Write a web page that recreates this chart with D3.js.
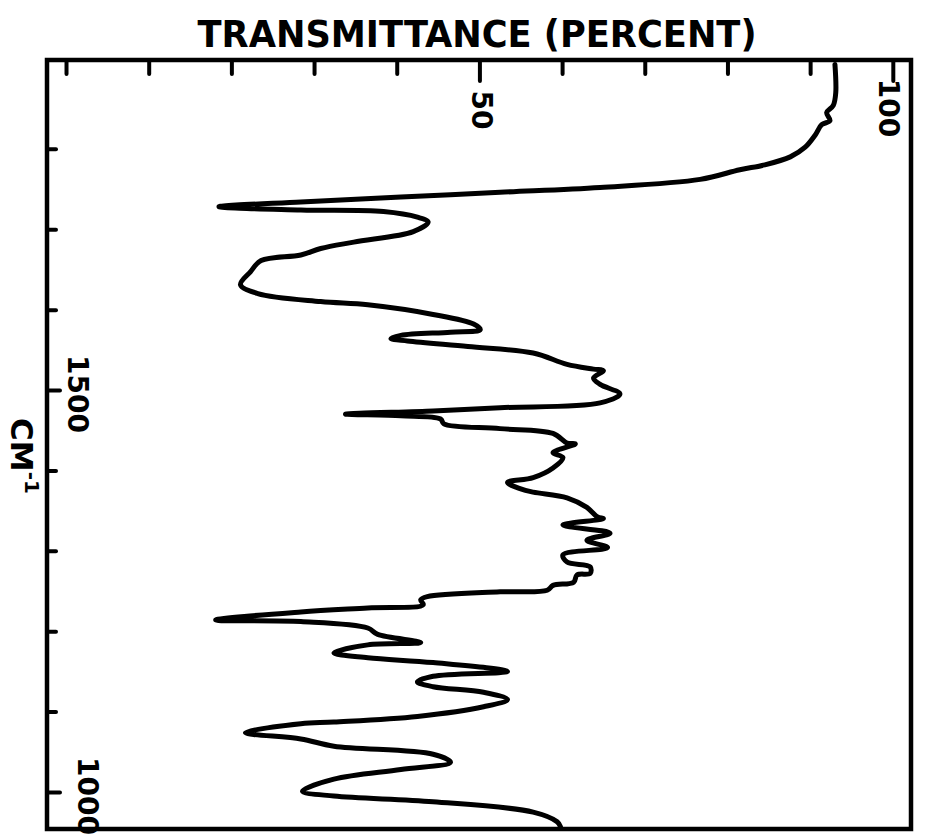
<!DOCTYPE html>
<html>
<head>
<meta charset="utf-8">
<script src="https://cdn.jsdelivr.net/npm/d3@7"></script>
<style>
  body { margin: 0; background: #fff; }
  text { font-family: "DejaVu Sans", sans-serif; font-weight: bold; fill: #000; }
  .title { font-family: "DejaVu Sans Condensed", "DejaVu Sans", sans-serif; }
</style>
</head>
<body>
<svg id="chart" width="925" height="834"></svg>
<script>
// spectrum, top (high cm-1) to bottom
const wavenumber = [1905, 1870, 1854, 1845, 1835, 1830, 1817, 1802, 1790, 1780, 1774, 1762, 1752, 1746, 1740, 1734, 1728, 1724, 1722, 1715,
    1709, 1697, 1684, 1676, 1668, 1661, 1647, 1631, 1620, 1610, 1606, 1594, 1582, 1575, 1572, 1568, 1564, 1561, 1554, 1546,
    1532, 1526, 1524, 1515, 1507, 1495, 1484, 1478, 1474, 1470, 1468, 1464, 1458, 1452, 1446, 1434, 1433, 1422, 1416, 1403,
    1391, 1385, 1377, 1373, 1366, 1354, 1342, 1340, 1332, 1322, 1313, 1304, 1295, 1286, 1280, 1272, 1270, 1261, 1257, 1251,
    1249, 1243, 1239, 1233, 1229, 1224, 1214, 1212, 1204, 1196, 1186, 1183, 1173, 1167, 1161, 1150, 1144, 1137, 1131, 1124,
    1115, 1106, 1094, 1087, 1085, 1074, 1066, 1057, 1047, 1037, 1028, 1016, 1001, 995, 988, 975, 963, 957];
const transmittance = [93.0, 93.1, 92.8, 92.0, 92.4, 91.4, 90.6, 89.4, 87.6, 84.5, 81.5, 76.7, 64.6, 52.5, 40.5, 28.4, 18.5, 28.4, 38.4, 42.5,
    43.8, 42.0, 34.8, 30.8, 28.4, 23.6, 22.3, 21.1, 23.2, 30.8, 36.5, 44.4, 49.3, 50.1, 46.5, 40.5, 39.3, 41.3, 48.6, 56.5,
    60.6, 63.8, 65.0, 63.8, 64.6, 67.0, 64.6, 52.5, 44.4, 33.8, 40.5, 45.3, 45.7, 52.5, 58.9, 60.6, 61.6, 58.9, 60.1, 58.9,
    56.5, 53.4, 55.0, 56.5, 60.6, 63.0, 64.3, 65.0, 60.1, 65.8, 63.0, 65.5, 60.1, 60.6, 63.4, 63.4, 61.8, 61.4, 58.9, 58.2,
    52.5, 43.7, 42.9, 43.2, 36.5, 28.4, 18.1, 28.4, 36.5, 37.7, 42.9, 36.5, 32.4, 36.5, 44.4, 53.4, 44.4, 42.5, 44.4, 50.5,
    53.4, 50.5, 42.5, 32.4, 28.4, 21.7, 28.4, 32.4, 44.4, 46.5, 40.5, 32.4, 28.6, 32.4, 44.4, 56.5, 59.4, 59.8];

const percentTicks = [0, 10, 20, 30, 40, 50, 60, 70, 80, 90, 100];
const percentLabels = [50, 100];
const wnTicks = [1800, 1700, 1600, 1500, 1400, 1300, 1200, 1100, 1000];
const wnLabels = [1500, 1000];

const svg = d3.select("#chart");
const g = svg.append("g");

const frameL = 47, frameR = 911, frameT = 60, frameB = 829;
const x = d3.scaleLinear().domain([-2.3, 102.2]).range([frameL, frameR]);
const y = d3.scaleLinear().domain([1908, 954]).range([62, frameB]);

// title
g.append("text").attr("class", "title").attr("x", 477).attr("y", 47).attr("text-anchor", "middle")
    .style("font-size", "37px").attr("textLength", 559).attr("lengthAdjust", "spacingAndGlyphs")
    .text("TRANSMITTANCE (PERCENT)");

// ticks on the top edge
const topAxis = g.append("g").attr("transform", `translate(0,${frameT})`)
    .call(d3.axisBottom(x).tickValues(percentTicks).tickFormat("").tickSizeInner(14).tickSizeOuter(0));
topAxis.select(".domain").remove();
topAxis.selectAll(".tick line").attr("stroke", "#000").attr("stroke-width", 4).attr("stroke-linecap", "round")
    .attr("y2", d => percentLabels.includes(d) ? 21 : 14);

// ticks on the left edge
const leftAxis = g.append("g").attr("transform", `translate(${frameL},0)`)
    .call(d3.axisRight(y).tickValues(wnTicks).tickFormat("").tickSizeInner(9).tickSizeOuter(0));
leftAxis.select(".domain").remove();
leftAxis.selectAll(".tick line").attr("stroke", "#000").attr("stroke-width", 4).attr("stroke-linecap", "round")
    .attr("x2", d => wnLabels.includes(d) ? 13 : 9);

// frame
g.append("rect").attr("x", frameL).attr("y", frameT).attr("width", frameR - frameL).attr("height", frameB - frameT)
    .attr("fill", "none").attr("stroke", "#000").attr("stroke-width", 4.5);

// rotated labels
percentLabels.forEach(v => {
    const lx = x(v) + (v === 100 ? -4 : 2), ly = v === 100 ? 108 : 110;
    g.append("text").attr("x", lx).attr("y", ly).attr("text-anchor", "middle").attr("dominant-baseline", "central")
        .attr("transform", `rotate(90,${lx},${ly})`).style("font-size", "28px").text(v);
});
wnLabels.forEach(v => {
    const lx = v === 1500 ? 77 : 87, ly = y(v) + 4;
    g.append("text").attr("x", lx).attr("y", ly).attr("text-anchor", "middle").attr("dominant-baseline", "central")
        .attr("transform", `rotate(90,${lx},${ly})`).style("font-size", "28px").text(v);
});

const cm = g.append("text").attr("x", 22).attr("y", 456).attr("text-anchor", "middle").attr("dominant-baseline", "central")
    .attr("transform", "rotate(90,22,456)").style("font-size", "31px");
cm.append("tspan").text("CM");
cm.append("tspan").attr("dy", -10).style("font-size", "20px").text("-1");

// spectrum trace
const pts = wavenumber.map((w, i) => [transmittance[i], w]);
g.append("path").datum(pts)
    .attr("d", d3.line().x(d => x(d[0])).y(d => y(d[1])).curve(d3.curveCatmullRom.alpha(0.5)))
    .attr("fill", "none").attr("stroke", "#000").attr("stroke-width", 5)
    .attr("stroke-linejoin", "round").attr("stroke-linecap", "round");
</script>
</body>
</html>
